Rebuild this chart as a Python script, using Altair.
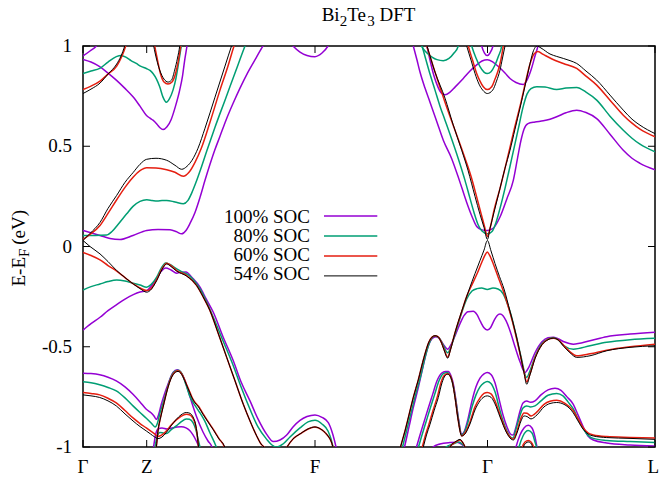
import altair as alt
import pandas as pd

FONT = "Liberation Serif, Times New Roman, Times, DejaVu Serif, serif"
SERIES = ["100% SOC", "80% SOC", "60% SOC", "54% SOC"]
COLORS = ["#9400d3", "#009e73", "#e51e10", "#000000"]
WIDTHS = [1.5, 1.5, 1.5, 1.0]

K_TICKS = [83, 146.7, 315, 487.5, 655]
K_LABELS = ["Γ", "Z", "F", "Γ", "L"]
E_TICKS = [-1, -0.5, 0, 0.5, 1]
E_LABELS = ["-1", "-0.5", "0", "0.5", "1"]

# ---------------- 100% SOC ----------------
P_C1 = [(83,0.08),(100,0.055),(110,0.04),(120,0.035),(133,0.055),(146.7,0.08),(158,0.085),(170,0.083),(176,0.075),(181.7,0.063),(186,0.08),(190,0.115),(195,0.17),(200,0.245),(205,0.33),(210,0.41),(214.7,0.48),(220,0.55),(226,0.63),(233,0.713),(240,0.79),(248,0.87),(256,0.94),(263,1.0),(270,1.04),(280,1.05),(288,1.03),(293,1.0),(300,0.97),(307,0.953),(315,0.947),(322,0.965),(328,1.0),(332,1.04)]
P_C2 = [(83,0.933),(91,0.92),(99.7,0.897),(108,0.865),(116.3,0.83),(124.7,0.79),(133,0.747),(140,0.7),(146.3,0.655),(150,0.64),(153,0.63),(157,0.61),(160,0.592),(163,0.583),(167,0.597),(171.3,0.635),(175.5,0.7),(179.7,0.78),(182.5,0.85),(184.7,0.93),(187,1.0),(188.5,1.05)]
P_C3 = [(83,0.95),(90,0.975),(96.3,1.0),(100,1.03)]
P_V1 = [(83,-0.417),(91,-0.385),(100,-0.353),(108,-0.32),(116.7,-0.29),(125,-0.262),(133.3,-0.24),(140,-0.227),(146.7,-0.22),(151,-0.2),(156,-0.165),(161,-0.125),(165.7,-0.107),(171,-0.117),(176.7,-0.133),(181,-0.128),(186,-0.127),(192,-0.155),(200,-0.203),(206,-0.26),(213.3,-0.328),(223,-0.45),(233.3,-0.57),(241,-0.675),(250,-0.77),(258,-0.86),(266.7,-0.937),(273.3,-0.973),(280,-0.965),(286.7,-0.94),(293,-0.9),(300,-0.867),(307,-0.848),(315,-0.84),(322,-0.852),(328.3,-0.878),(333,-0.94),(336,-1.0),(338,-1.05)]
P_A = [(83,-0.632),(91,-0.634),(99.7,-0.64),(108,-0.652),(116.3,-0.67),(125,-0.7),(133,-0.737),(140,-0.775),(146.3,-0.812),(151.3,-0.83),(154,-0.845),(156.3,-0.862),(158.5,-0.84),(161.3,-0.787),(164.5,-0.735),(168,-0.687),(173,-0.628),(177.3,-0.615),(181,-0.628),(185,-0.67),(189.7,-0.745),(196.3,-0.845),(203,-0.925),(208,-0.97),(212,-1.0),(214,-1.04)]
P_B = [(151,-1.05),(153.5,-1.0),(155.5,-0.94),(158,-0.91),(162,-0.905),(167,-0.91),(173,-0.904),(177,-0.9),(181.3,-0.899),(186,-0.905),(189.7,-0.918),(193,-0.94),(196.3,-0.97),(199,-1.0),(201,-1.04)]
P_LAMBDA = [(427,1.0),(430,0.93),(434,0.85),(438,0.795),(441,0.767),(445,0.757),(450,0.77),(455,0.795),(463.3,0.838),(470,0.875),(477,0.907),(482,0.925),(487.3,0.932),(493,0.92),(500,0.89),(505,0.865),(510,0.838),(516,0.818),(523.3,0.808),(527,0.83),(531,0.88),(535,0.95),(538,1.0),(540,1.04)]
P_SMALLV = [(479.5,1.05),(481.7,1.0),(484.5,0.965),(487.3,0.952),(490,0.965),(493,1.0),(495,1.05)]
P_C1R = [(410.5,1.05),(413.3,1.0),(417,0.93),(420,0.87),(425,0.79),(430,0.72),(437,0.62),(443.3,0.53),(451.7,0.438),(458,0.35),(462,0.29),(466.7,0.22),(472,0.15),(476.7,0.1),(482,0.083),(487.4,0.08),(493,0.09),(500,0.147),(507,0.24),(513.3,0.33),(517.5,0.44),(521,0.53),(524,0.585),(528,0.613),(535,0.621),(543.3,0.627),(550,0.635),(556.7,0.647),(566,0.667),(576.7,0.68),(586,0.668),(596.7,0.638),(610,0.56),(623.3,0.48),(632,0.44),(640,0.415),(655,0.383)]
P_V1R = [(402.5,-1.04),(404.5,-1.0),(409,-0.9),(413,-0.81),(418,-0.71),(423,-0.6),(428,-0.5),(432,-0.46),(436,-0.45),(440,-0.463),(443.5,-0.49),(447.7,-0.512),(451,-0.49),(455.5,-0.44),(460,-0.385),(464,-0.345),(468,-0.325),(473.3,-0.323),(477,-0.34),(480.5,-0.375),(484,-0.405),(487.3,-0.417),(490.5,-0.405),(494,-0.37),(497,-0.345),(500,-0.337),(503,-0.345),(506,-0.37),(510,-0.42),(515,-0.5),(520,-0.575),(525,-0.628),(529,-0.6),(535,-0.53),(542,-0.475),(548,-0.455),(553.3,-0.452),(558,-0.46),(564,-0.475),(573.3,-0.487),(590,-0.47),(606.7,-0.45),(630,-0.437),(655,-0.428)]
P_V2R = [(414,-1.04),(416.5,-1.0),(420,-0.94),(424,-0.875),(428,-0.81),(432.5,-0.74),(437,-0.67),(441.5,-0.632),(445.5,-0.623),(448.3,-0.623),(451,-0.645),(453.5,-0.69),(456,-0.77),(458.5,-0.86),(461.7,-0.935),(464.5,-0.92),(468,-0.86),(472,-0.77),(476,-0.7),(480,-0.657),(484,-0.635),(487.3,-0.628),(491,-0.638),(495,-0.68),(499,-0.76),(503,-0.84),(507,-0.9),(510.5,-0.935),(513,-0.94),(516,-0.9),(519.5,-0.83),(523,-0.78),(526.7,-0.77),(530.5,-0.777),(535,-0.77),(541,-0.74),(548,-0.715),(555,-0.707),(561,-0.717),(567,-0.75),(573.3,-0.787),(578,-0.84),(583.3,-0.9),(588,-0.945),(593.3,-0.965),(606.7,-0.98),(630,-0.99),(655,-0.995)]
P_V3R = [(514,-1.04),(516,-1.0),(520,-0.94),(524,-0.905),(528.3,-0.892),(532,-0.905),(535,-0.95),(537,-1.0),(539,-1.04)]
P_LOW = [(430,-1.04),(433,-1.0),(440,-0.985),(450,-0.978),(457,-0.976),(461,-0.985),(464,-1.0),(466,-1.04)]

# ---------------- 80% SOC ----------------
G_C1 = [(83,0.055),(95,0.055),(106.7,0.057),(112,0.075),(118,0.11),(126.7,0.163),(133,0.2),(140,0.225),(146.7,0.233),(152,0.23),(157,0.227),(162,0.229),(166.7,0.23),(175,0.222),(183.3,0.213),(188,0.23),(192,0.27),(196,0.32),(201,0.39),(207,0.48),(215,0.595),(225,0.73),(235,0.865),(245,1.0),(249,1.05)]
G_C2 = [(83,0.863),(91,0.875),(99.7,0.888),(108,0.92),(116.3,0.947),(121,0.953),(126.3,0.943),(131,0.927),(136.3,0.913),(141,0.898),(146.3,0.888),(150,0.878),(153,0.863),(156.5,0.835),(159.7,0.797),(163,0.745),(166.3,0.72),(169.5,0.738),(173,0.78),(176,0.84),(178,0.897),(181.3,1.0),(183,1.05)]
G_V1 = [(83,-0.217),(91,-0.2),(100,-0.187),(108,-0.175),(116.7,-0.167),(125,-0.172),(133.3,-0.183),(140,-0.192),(146.7,-0.203),(151,-0.19),(156.7,-0.153),(161,-0.11),(165.7,-0.082),(170,-0.09),(176.7,-0.112),(182,-0.127),(188.3,-0.142),(194,-0.17),(200,-0.212),(206,-0.27),(213.3,-0.353),(223,-0.47),(233.3,-0.595),(241,-0.7),(250,-0.812),(258,-0.9),(266.7,-0.962),(272,-0.99),(277,-1.0),(283,-0.985),(290,-0.95),(300,-0.905),(308,-0.875),(315,-0.867),(322,-0.885),(328,-0.92),(331,-0.96),(333,-1.0),(335,-1.05)]
G_A = [(83,-0.675),(91,-0.68),(99.7,-0.69),(108,-0.703),(116.3,-0.72),(125,-0.755),(133,-0.795),(140,-0.828),(146.3,-0.857),(152,-0.885),(155,-0.9),(157.5,-0.88),(160,-0.83),(162.5,-0.79),(164.7,-0.753),(168,-0.695),(171,-0.65),(174,-0.625),(178,-0.617),(182,-0.635),(186,-0.69),(189.7,-0.745),(195.3,-0.795),(200,-0.83),(204.7,-0.87),(210,-0.93),(216.3,-1.0),(219,-1.04)]
G_B = [(153,-1.04),(155,-1.0),(157,-0.95),(160,-0.928),(163,-0.93),(166.3,-0.933),(171,-0.915),(176.3,-0.895),(181,-0.875),(186.3,-0.86),(189.5,-0.862),(193,-0.878),(196,-0.915),(198,-0.96),(200,-1.0),(202,-1.04)]
G_U = [(419.5,1.04),(421.7,1.0),(426,0.97),(432,0.945),(437,0.932),(443.3,0.927),(449,0.938),(454,0.965),(458.3,1.0),(460,1.04)]
G_VG = [(469,1.05),(471.7,1.0),(476,0.94),(480,0.897),(484,0.87),(487.3,0.863),(491,0.872),(495,0.905),(498.5,0.95),(501.7,1.0),(503,1.05)]
G_C1R = [(419,1.04),(422,1.0),(426,0.93),(430,0.86),(435,0.78),(440,0.7),(445,0.63),(450,0.56),(458.3,0.438),(465,0.33),(470,0.24),(474,0.17),(478,0.11),(482,0.077),(487.4,0.063),(492,0.075),(496,0.12),(500,0.19),(505,0.29),(511.7,0.438),(518,0.58),(523.3,0.7),(527,0.76),(531,0.787),(536.7,0.797),(545,0.795),(556.7,0.783),(566,0.79),(576.7,0.793),(586,0.77),(596.7,0.73),(610,0.65),(623.3,0.58),(632,0.54),(640,0.51),(655,0.472)]
G_V1R = [(400.5,-1.04),(402.5,-1.0),(407,-0.91),(411,-0.83),(415.5,-0.74),(420.5,-0.65),(426,-0.535),(430.5,-0.468),(435,-0.446),(439,-0.455),(443,-0.49),(447.7,-0.53),(451,-0.5),(455.5,-0.43),(461.7,-0.33),(466.7,-0.262),(472,-0.222),(477,-0.21),(481.7,-0.207),(487.3,-0.214),(493,-0.207),(498,-0.212),(503,-0.235),(507,-0.28),(511,-0.34),(516,-0.44),(521,-0.55),(526.7,-0.653),(530,-0.62),(535,-0.55),(542,-0.483),(548,-0.462),(553.3,-0.455),(558,-0.465),(564,-0.495),(573.3,-0.512),(590,-0.495),(606.7,-0.478),(630,-0.465),(655,-0.458)]
G_V2R = [(416,-1.04),(418.5,-1.0),(422,-0.94),(426,-0.875),(430,-0.81),(434.5,-0.74),(439,-0.67),(443,-0.635),(447,-0.628),(451,-0.655),(453.5,-0.7),(456,-0.775),(458.5,-0.865),(461.7,-0.94),(464.5,-0.925),(468,-0.875),(472,-0.8),(476,-0.74),(480,-0.7),(484,-0.68),(487.3,-0.673),(491,-0.683),(495,-0.725),(499,-0.8),(503,-0.87),(507,-0.92),(510.5,-0.95),(513,-0.955),(516,-0.91),(519.5,-0.85),(523,-0.805),(526.7,-0.795),(530.5,-0.8),(535,-0.795),(541,-0.77),(548,-0.742),(556.7,-0.733),(563,-0.745),(568,-0.775),(573.3,-0.81),(578,-0.86),(583.3,-0.91),(588,-0.942),(593.3,-0.957),(606.7,-0.967),(630,-0.973),(655,-0.978)]
G_V3R = [(517,-1.04),(519,-1.0),(523,-0.945),(528.3,-0.918),(532,-0.93),(535,-0.975),(536.5,-1.0),(538,-1.04)]
G_LOW = [(443,-1.04),(446,-1.0),(453,-0.985),(459,-0.975),(462,-0.985),(464.5,-1.0),(466,-1.04)]

# ---------------- 60% SOC ----------------
R_C1 = [(83,0.035),(90,0.06),(100,0.105),(108,0.165),(116.7,0.233),(125,0.295),(133.3,0.347),(140,0.378),(146.7,0.393),(156,0.392),(166.7,0.383),(175,0.37),(183.3,0.35),(189,0.37),(195,0.42),(201.3,0.49),(210,0.62),(220,0.78),(228,0.9),(234,1.0),(238,1.06)]
R_C2 = [(83,0.783),(91,0.8),(100,0.825),(108,0.86),(116.7,0.9),(122,0.95),(125.7,1.0),(128,1.04)]
R_VZ = [(152,1.08),(154.7,1.0),(157.5,0.93),(160.3,0.865),(164,0.82),(168,0.81),(172,0.82),(175.7,0.865),(178.5,0.93),(180.7,1.0),(182,1.06)]
R_V1 = [(83,-0.03),(91,-0.045),(100,-0.067),(108,-0.095),(116.7,-0.123),(125,-0.155),(133.3,-0.187),(140,-0.207),(146.7,-0.22),(150,-0.215),(156.7,-0.165),(162,-0.11),(166.7,-0.083),(171,-0.095),(176.7,-0.12),(186.7,-0.145),(196.7,-0.195),(203,-0.25),(210,-0.32),(218,-0.43),(226.7,-0.553),(235,-0.67),(243.3,-0.787),(250,-0.87),(256.7,-0.945),(261,-0.985),(264,-1.0),(270,-1.06),(280,-1.06),(287,-1.0),(293,-0.96),(300,-0.935),(308,-0.91),(315,-0.9),(322,-0.915),(328,-0.945),(331,-0.97),(333,-1.0),(335,-1.04)]
R_A = [(83,-0.728),(91,-0.733),(99.7,-0.74),(108,-0.757),(116.3,-0.78),(125,-0.818),(133,-0.855),(140,-0.883),(146.3,-0.905),(150.5,-0.92),(154.7,-0.935),(158,-0.948),(162,-0.94),(166.3,-0.92),(171,-0.892),(176.3,-0.865),(181,-0.847),(186.3,-0.837),(190,-0.84),(193,-0.857),(195.5,-0.89),(197.3,-0.945),(198.5,-1.0),(200,-1.04)]
R_B = [(154,-1.04),(156.3,-1.0),(158,-0.92),(160.5,-0.853),(163,-0.8),(165.5,-0.748),(168,-0.7),(170.5,-0.662),(173,-0.637),(175.5,-0.624),(178,-0.62),(180.5,-0.627),(183,-0.647),(186.5,-0.687),(189.7,-0.725),(192,-0.752),(194.7,-0.775),(198.5,-0.797),(203,-0.834),(208,-0.872),(213,-0.91),(219,-0.958),(224.5,-1.0),(227,-1.04)]
R_VG = [(466,1.05),(468.3,1.0),(472.5,0.93),(476.7,0.863),(480,0.825),(483.3,0.797),(487.3,0.783),(491.7,0.797),(495,0.835),(498.3,0.88),(501,0.935),(503.3,1.0),(505,1.05)]
R_C1R = [(424,1.04),(426.7,1.0),(435,0.87),(445,0.72),(455,0.58),(465,0.44),(471,0.35),(476,0.26),(480.5,0.175),(484.5,0.1),(487.4,0.05),(490.5,0.1),(494,0.18),(500,0.29),(507.3,0.438),(514,0.58),(521,0.72),(526,0.83),(530,0.91),(534,0.96),(538,0.972),(543.3,0.958),(552,0.935),(563.3,0.913),(576.7,0.888),(586,0.85),(596.7,0.805),(610,0.73),(623.3,0.655),(632,0.615),(640,0.585),(655,0.547)]
R_V1R = [(398.5,-1.04),(400.5,-1.0),(405,-0.92),(409,-0.84),(413.3,-0.753),(418.3,-0.665),(424,-0.553),(429,-0.475),(432,-0.452),(435,-0.445),(438,-0.45),(441,-0.473),(444,-0.512),(447.7,-0.552),(450.5,-0.512),(455,-0.43),(461.7,-0.325),(467,-0.245),(472,-0.19),(476.7,-0.14),(481.7,-0.08),(485,-0.043),(487.3,-0.028),(489.5,-0.043),(493.3,-0.087),(498.3,-0.155),(503.3,-0.222),(510,-0.33),(515,-0.425),(520,-0.535),(524,-0.625),(526.7,-0.675),(530,-0.635),(535,-0.555),(542,-0.488),(548,-0.463),(553.3,-0.457),(558,-0.465),(564,-0.495),(570,-0.525),(576.7,-0.545),(590,-0.535),(606.7,-0.517),(630,-0.5),(655,-0.487)]
R_V2R = [(420,-1.04),(422.3,-1.0),(425.5,-0.94),(429,-0.885),(433,-0.818),(437.3,-0.75),(441,-0.678),(444,-0.645),(447.5,-0.635),(450,-0.643),(452.5,-0.678),(455,-0.75),(458,-0.86),(461.7,-0.945),(465,-0.93),(470,-0.875),(475,-0.8),(480,-0.755),(484,-0.733),(487.3,-0.728),(491,-0.735),(495,-0.77),(500,-0.84),(506.7,-0.925),(511,-0.955),(513.5,-0.96),(517,-0.92),(521,-0.855),(524,-0.83),(527,-0.832),(531,-0.845),(537,-0.825),(544,-0.787),(550,-0.772),(556.7,-0.767),(565,-0.782),(573.3,-0.82),(578,-0.86),(583.3,-0.905),(588,-0.93),(593.3,-0.94),(606.7,-0.948),(630,-0.952),(655,-0.955)]
R_V3R = [(521,-1.04),(522.5,-1.0),(525,-0.975),(528.3,-0.968),(531,-0.975),(533.5,-1.0),(535,-1.04)]
R_LOW = [(448,-1.04),(450,-1.0),(456,-0.975),(460,-0.965),(463,-0.98),(465,-1.0),(467,-1.04)]

# ---------------- 54% SOC ----------------
K_C1 = [(83,0.03),(90,0.065),(100,0.12),(108,0.19),(116.7,0.255),(125,0.32),(133.3,0.37),(140,0.41),(146.7,0.435),(156,0.44),(166.7,0.43),(175,0.405),(181.7,0.385),(187,0.4),(192,0.43),(198,0.49),(205,0.59),(215,0.745),(225,0.9),(231.5,1.0),(235,1.05)]
K_C2 = [(83,0.763),(91,0.785),(100,0.815),(108,0.86),(116.7,0.91),(121,0.95),(124.7,1.0),(127,1.04)]
K_VZ = [(151,1.08),(153.7,1.0),(156.5,0.935),(159.7,0.88),(164,0.835),(168,0.82),(171.5,0.83),(174.7,0.88),(177.5,0.94),(179.7,1.0),(181,1.06)]
K_V1 = [(83,0.03),(90,0.0),(100,-0.037),(108,-0.075),(116.7,-0.12),(125,-0.155),(133.3,-0.187),(140,-0.21),(146.7,-0.228),(150,-0.22),(156.7,-0.17),(162,-0.115),(166.7,-0.087),(171,-0.1),(176.7,-0.123),(186.7,-0.148),(196.7,-0.195),(203,-0.25),(210,-0.32),(218,-0.43),(226.7,-0.553),(235,-0.67),(243.3,-0.787),(250,-0.87),(256.7,-0.945),(261,-0.985),(264,-1.0),(270,-1.06),(280,-1.06),(287,-1.0),(293,-0.96),(300,-0.935),(308,-0.91),(315,-0.9),(322,-0.915),(328,-0.945),(331,-0.97),(333,-1.0),(335,-1.04)]
K_A = [(83,-0.74),(91,-0.745),(99.7,-0.753),(108,-0.77),(116.3,-0.795),(125,-0.835),(133,-0.87),(140,-0.898),(146.3,-0.92),(150.5,-0.935),(154.7,-0.95),(158,-0.958),(162,-0.95),(166.3,-0.928),(171,-0.895),(176.3,-0.862),(181,-0.84),(186.3,-0.828),(190,-0.832),(193,-0.85),(195.5,-0.885),(197.3,-0.94),(198.5,-1.0),(200,-1.04)]
K_B = [(154,-1.04),(156.3,-1.0),(158,-0.92),(160.5,-0.855),(163,-0.803),(165.5,-0.75),(168,-0.703),(170.5,-0.665),(173,-0.64),(175.5,-0.627),(178,-0.623),(180.5,-0.63),(183,-0.65),(186.5,-0.69),(189.7,-0.728),(192,-0.755),(194.7,-0.778),(198.5,-0.8),(203,-0.837),(208,-0.875),(213,-0.912),(219,-0.96),(224.7,-1.0),(227,-1.04)]
K_VG = [(464,1.05),(466.7,1.0),(471,0.93),(475,0.863),(479,0.81),(482.7,0.78),(487.3,0.763),(492.7,0.78),(496.5,0.825),(500,0.88),(502.5,0.94),(505,1.0),(507,1.05)]
K_C1R = [(424.5,1.04),(427,1.0),(435,0.87),(445,0.74),(453,0.61),(461.7,0.48),(468,0.38),(475,0.25),(480,0.16),(484,0.095),(487.4,0.035),(490,0.09),(494,0.17),(500,0.29),(505,0.39),(510,0.48),(515,0.585),(520,0.69),(525,0.8),(529,0.89),(533,0.97),(537,1.0),(541,0.99),(550,0.96),(556.7,0.948),(563.3,0.938),(570,0.927),(576.7,0.913),(586,0.875),(596.7,0.83),(610,0.755),(623.3,0.68),(632,0.635),(640,0.605),(655,0.563)]
K_V1R = [(398.5,-1.04),(400.5,-1.0),(405,-0.92),(409,-0.84),(413.3,-0.753),(418.3,-0.665),(424,-0.553),(429,-0.475),(432,-0.452),(435,-0.445),(438,-0.45),(441,-0.475),(444,-0.515),(447.7,-0.557),(450.5,-0.515),(455,-0.43),(461.7,-0.323),(469.3,-0.212),(475,-0.135),(480,-0.07),(484,-0.018),(487.4,0.03),(491,-0.022),(495,-0.085),(499.5,-0.15),(504,-0.212),(510,-0.323),(515,-0.42),(520,-0.53),(524,-0.63),(526.7,-0.687),(530,-0.64),(535,-0.56),(542,-0.49),(548,-0.465),(553.3,-0.457),(558,-0.465),(564,-0.5),(570,-0.53),(576.7,-0.553),(590,-0.545),(606.7,-0.52),(630,-0.503),(655,-0.495)]
K_V2R = [(421,-1.04),(423.3,-1.0),(426.5,-0.94),(430,-0.887),(434,-0.82),(438.3,-0.753),(442,-0.68),(445,-0.645),(447.5,-0.637),(450,-0.645),(452.5,-0.68),(455,-0.753),(458,-0.86),(461.7,-0.945),(465,-0.935),(470,-0.885),(475,-0.815),(480,-0.77),(484,-0.75),(487.3,-0.745),(491,-0.752),(495,-0.785),(500,-0.85),(506.7,-0.93),(511,-0.96),(513.5,-0.965),(517,-0.93),(521,-0.87),(524,-0.845),(527,-0.848),(531,-0.86),(537,-0.84),(544,-0.8),(550,-0.783),(556.7,-0.778),(565,-0.79),(573.3,-0.83),(578,-0.87),(583.3,-0.912),(588,-0.935),(593.3,-0.945),(606.7,-0.953),(630,-0.957),(655,-0.962)]
K_V3R = [(522,-1.04),(523.5,-1.0),(526,-0.98),(528.3,-0.975),(530.5,-0.98),(532.5,-1.0),(534,-1.04)]
K_LOW = [(448,-1.04),(450,-1.0),(456,-0.972),(460,-0.962),(463,-0.98),(465,-1.0),(467,-1.04)]

BANDS = {
    "100% SOC": [P_C1, P_C2, P_C3, P_V1, P_A, P_B, P_LAMBDA, P_SMALLV, P_C1R, P_V1R, P_V2R, P_V3R, P_LOW],
    "80% SOC": [G_C1, G_C2, G_V1, G_A, G_B, G_U, G_VG, G_C1R, G_V1R, G_V2R, G_V3R, G_LOW],
    "60% SOC": [R_C1, R_C2, R_VZ, R_V1, R_A, R_B, R_VG, R_C1R, R_V1R, R_V2R, R_V3R, R_LOW],
    "54% SOC": [K_C1, K_C2, K_VZ, K_V1, K_A, K_B, K_VG, K_C1R, K_V1R, K_V2R, K_V3R, K_LOW],
}

rows = []
for s, bands in BANDS.items():
    for b, pts in enumerate(bands):
        for i, (k, e) in enumerate(pts):
            rows.append({"series": s, "band": b, "i": i, "k": k, "E": e})
df = pd.DataFrame(rows)

W, H = 572, 401
xs = alt.Scale(domain=[K_TICKS[0], K_TICKS[-1]], nice=False, zero=False)
ys = alt.Scale(domain=[-1, 1], nice=False, zero=False)

layers = []
for s, c, w in zip(SERIES, COLORS, WIDTHS):
    layers.append(
        alt.Chart(df[df["series"] == s]).mark_line(
            clip=True, interpolate="monotone", color=c, strokeWidth=w
        ).encode(
            x=alt.X("k:Q", scale=xs, axis=None),
            y=alt.Y("E:Q", scale=ys, axis=None),
            detail="band:N",
            order="i:Q",
        )
    )

edf = pd.DataFrame({"E": E_TICKS, "lab": E_LABELS})
kdf = pd.DataFrame({"k": K_TICKS, "lab": K_LABELS})
TL = 7
layers.append(alt.Chart(edf).mark_rule(color="black", strokeWidth=1).encode(
    y=alt.Y("E:Q", scale=ys, axis=None), x=alt.value(0), x2=alt.value(TL)))
layers.append(alt.Chart(edf).mark_rule(color="black", strokeWidth=1).encode(
    y=alt.Y("E:Q", scale=ys, axis=None), x=alt.value(W - TL), x2=alt.value(W)))
layers.append(alt.Chart(kdf).mark_rule(color="black", strokeWidth=1).encode(
    x=alt.X("k:Q", scale=xs, axis=None), y=alt.value(H - TL), y2=alt.value(H)))
layers.append(alt.Chart(kdf).mark_rule(color="black", strokeWidth=1).encode(
    x=alt.X("k:Q", scale=xs, axis=None), y=alt.value(0), y2=alt.value(TL)))
# tick labels
layers.append(alt.Chart(edf).mark_text(font=FONT, fontSize=19, align="right", baseline="middle",
                                       color="black").encode(
    y=alt.Y("E:Q", scale=ys, axis=None), x=alt.value(-11), text="lab:N"))
layers.append(alt.Chart(kdf.iloc[:-1]).mark_text(font=FONT, fontSize=19, baseline="top",
                                                 color="black").encode(
    x=alt.X("k:Q", scale=xs, axis=None), y=alt.value(H + 11), text="lab:N"))
layers.append(alt.Chart(kdf.iloc[-1:]).mark_text(font=FONT, fontSize=19, baseline="top",
                                                 align="right", dx=4, color="black").encode(
    x=alt.X("k:Q", scale=xs, axis=None), y=alt.value(H + 11), text="lab:N"))


def txt(s, x, y, size=19, angle=0, align="left", baseline="alphabetic"):
    return alt.Chart(pd.DataFrame({"t": [s]})).mark_text(
        font=FONT, fontSize=size, angle=angle, align=align, baseline=baseline, color="black"
    ).encode(text="t:N", x=alt.value(x), y=alt.value(y))


# title  Bi2Te3 DFT
layers += [
    txt("Bi", 238.7, -25.3),
    txt("2", 256.7, -20.0, size=15),
    txt("Te", 264.2, -25.3),
    txt("3", 284.2, -20.0, size=15),
    txt("DFT", 296.5, -25.3),
]
# y label  E-E_F (eV)
layers += [
    txt("E-E", -58, 240.5, angle=270),
    txt("F", -54, 211.0, size=15, angle=270),
    txt("(eV)", -58, 198.8, angle=270),
]
# legend
for i, (s, c, w) in enumerate(zip(SERIES, COLORS, WIDTHS)):
    layers.append(txt(s, 227, 176.7 + 19.2 * i, align="right"))
    layers.append(alt.Chart(pd.DataFrame({"s": [s]})).mark_rule(color=c, strokeWidth=w).encode(
        x=alt.value(241), x2=alt.value(294.3), y=alt.value(169.9 + 20.0 * i)))

chart = alt.layer(*layers).properties(
    width=W, height=H,
    padding={"left": 83, "top": 46, "right": 4, "bottom": 32},
    autosize=alt.AutoSizeParams(type="none"),
    background="white",
).configure_view(stroke="black", strokeWidth=1.5)

chart.save("out.html", embed_options={"renderer": "svg", "actions": False})
